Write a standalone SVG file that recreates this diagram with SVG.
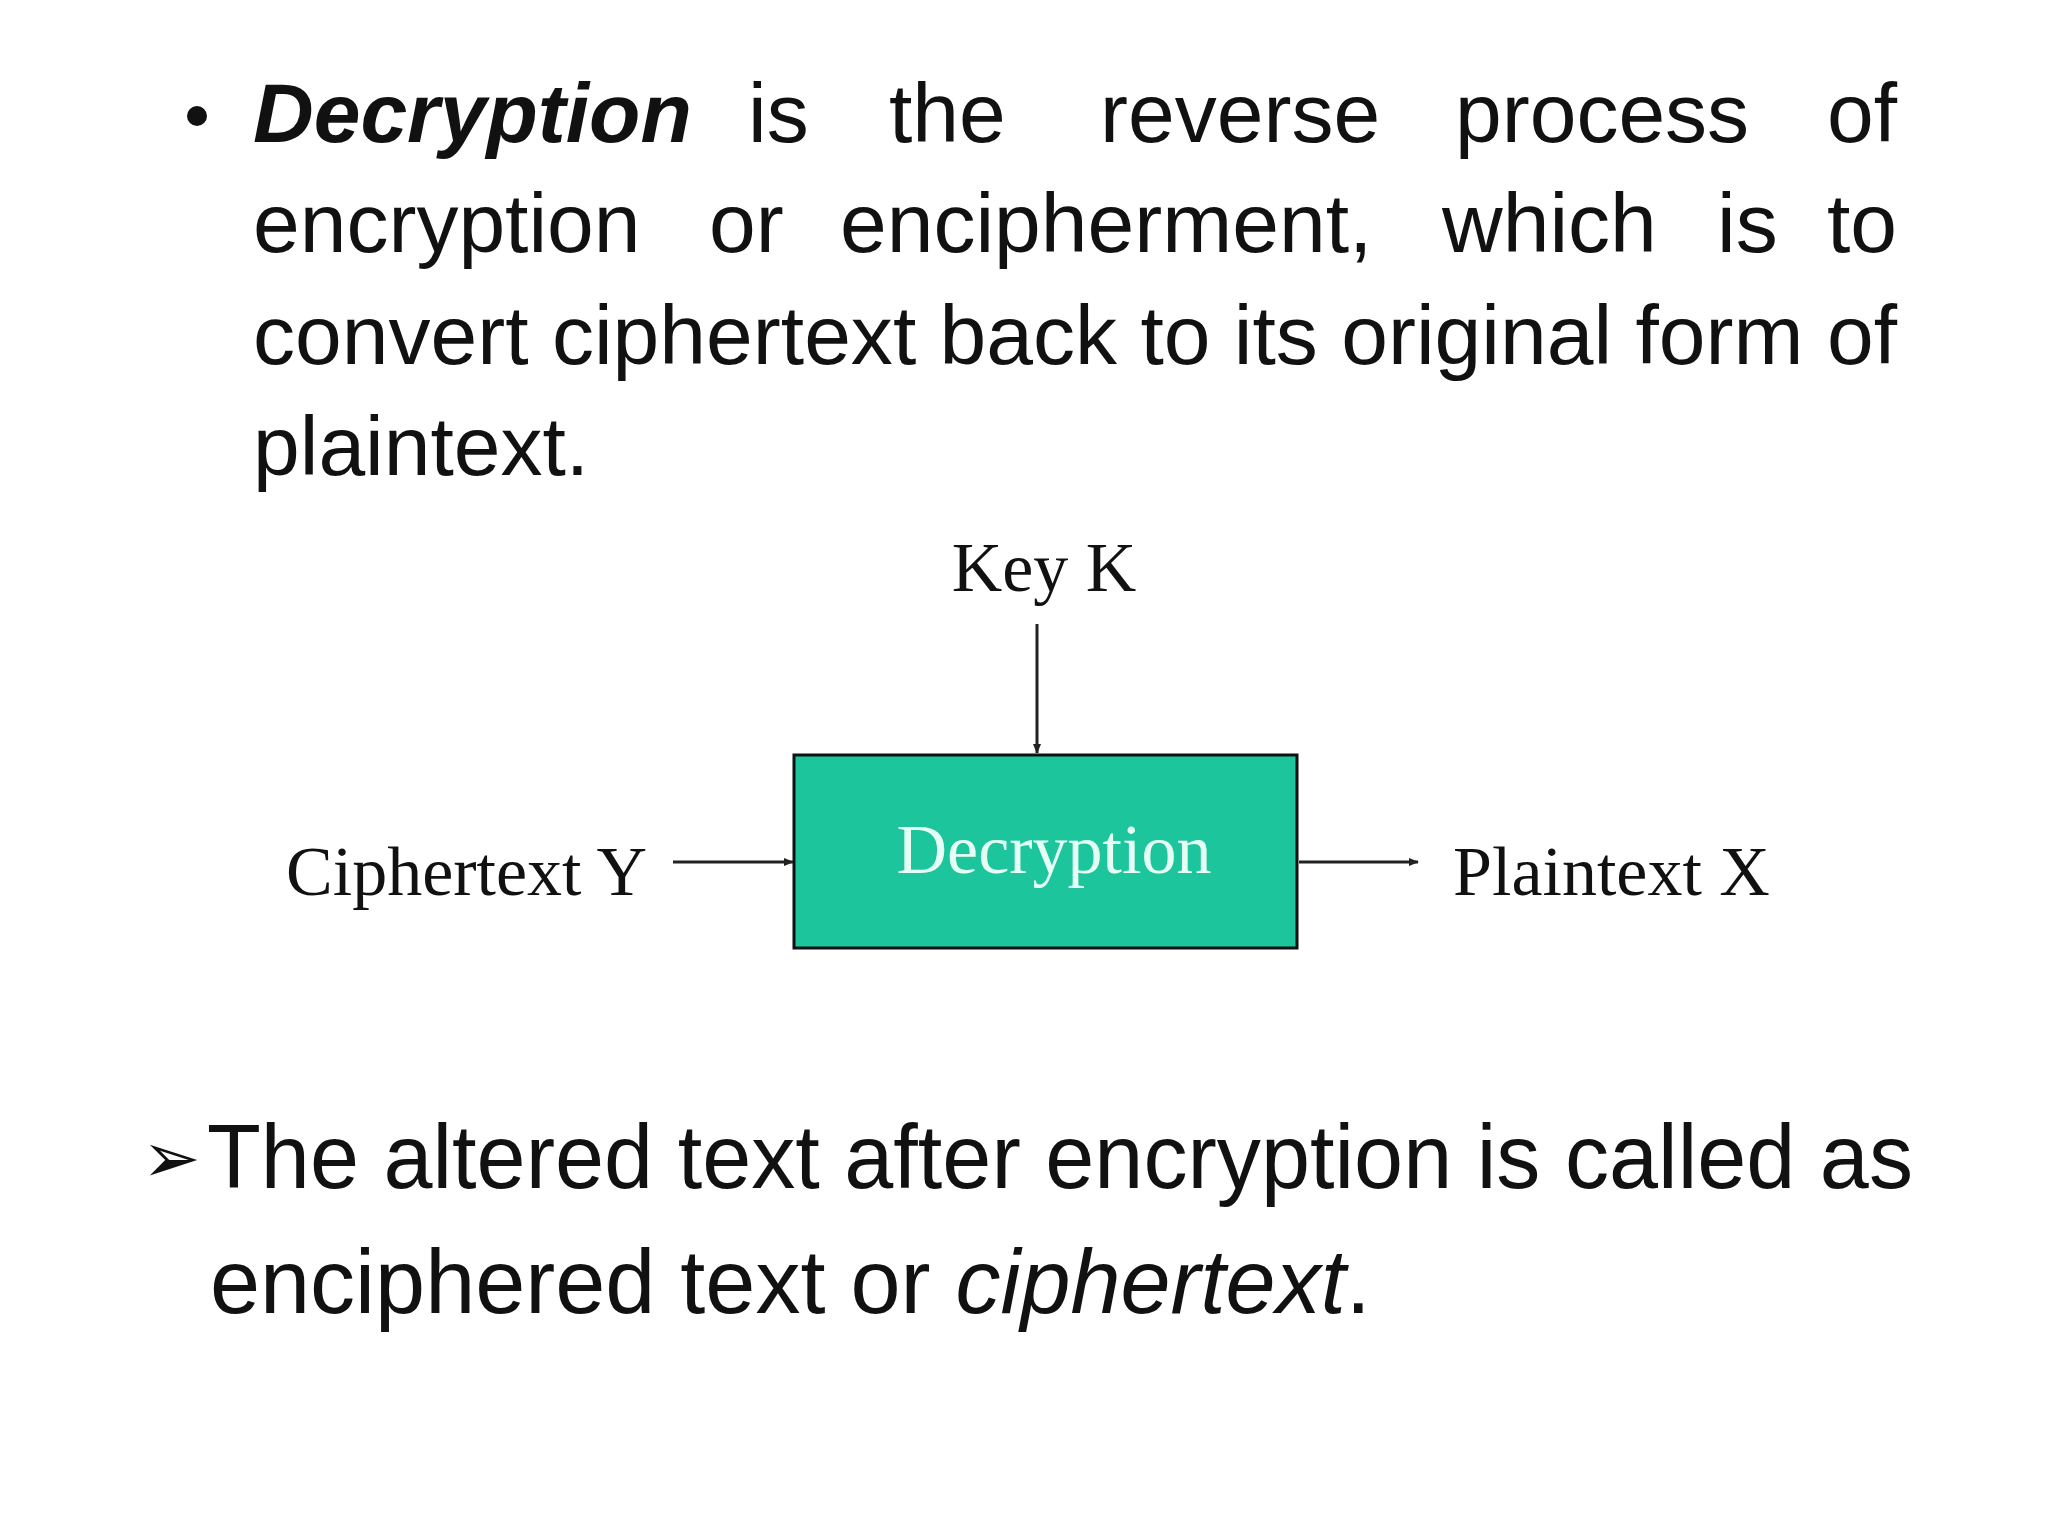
<svg xmlns="http://www.w3.org/2000/svg" width="2048" height="1536" viewBox="0 0 2048 1536">
<defs>
<style>
.b{font-family:"Liberation Sans","DejaVu Sans",sans-serif;font-size:84px;fill:#111}
.s{font-family:"Liberation Serif","DejaVu Serif",serif;font-size:70px;fill:#111}
.c{stroke:#222;stroke-width:3;fill:none}
</style>
<marker id="ah" markerWidth="10" markerHeight="10" refX="9" refY="5" orient="auto" markerUnits="userSpaceOnUse"><path d="M0,1 L10,5 L0,9 z" fill="#222"/></marker>
</defs>
<rect width="2048" height="1536" fill="#fff"/>
<g id="text-top">
<circle cx="197" cy="116" r="10" fill="#111"/>
<text class="b" y="142"><tspan x="253" font-weight="bold" font-style="italic">Decryption</tspan><tspan x="748">is</tspan><tspan x="889">the</tspan><tspan x="1100">reverse</tspan><tspan x="1455">process</tspan></text>
<text class="b" x="1897" y="142" text-anchor="end">of</text>
<text class="b" y="252"><tspan x="253">encryption</tspan><tspan x="709">or</tspan><tspan x="840">encipherment,</tspan><tspan x="1442">which</tspan><tspan x="1717">is</tspan></text>
<text class="b" x="1897" y="252" text-anchor="end">to</text>
<text class="b" x="253" y="364" textLength="1644" lengthAdjust="spacingAndGlyphs">convert ciphertext back to its original form of</text>
<text class="b" x="253" y="475">plaintext.</text>
</g>
<g id="key"><text class="s" x="1044" y="591" text-anchor="middle">Key K</text></g>
<g id="cipher"><text class="s" x="647" y="895" text-anchor="end">Ciphertext Y</text></g>
<g id="decryption">
<rect x="794" y="755" width="503" height="193" fill="#1cc59c" stroke="#111" stroke-width="3"/>
<text class="s" x="1054" y="873" text-anchor="middle" style="fill:#e6fff4">Decryption</text>
</g>
<g id="plain"><text class="s" x="1453" y="895">Plaintext X</text></g>
<g id="connectors">
<line class="c" x1="1037" y1="624" x2="1037" y2="753" marker-end="url(#ah)"/>
<line class="c" x1="673" y1="862" x2="793" y2="862" marker-end="url(#ah)"/>
<line class="c" x1="1299" y1="862" x2="1418" y2="862" marker-end="url(#ah)"/>
</g>
<g id="text-bottom">
<text x="142" y="1182" style="font-size:70px;fill:#111" font-family="DejaVu Sans,sans-serif">➢</text>
<text class="b" x="207" y="1188" textLength="1706" lengthAdjust="spacingAndGlyphs" style="font-size:90px">The altered text after encryption is called as</text>
<text class="b" x="210" y="1313" style="font-size:90px">enciphered text or <tspan font-style="italic">ciphertext</tspan>.</text>
</g>
</svg>
